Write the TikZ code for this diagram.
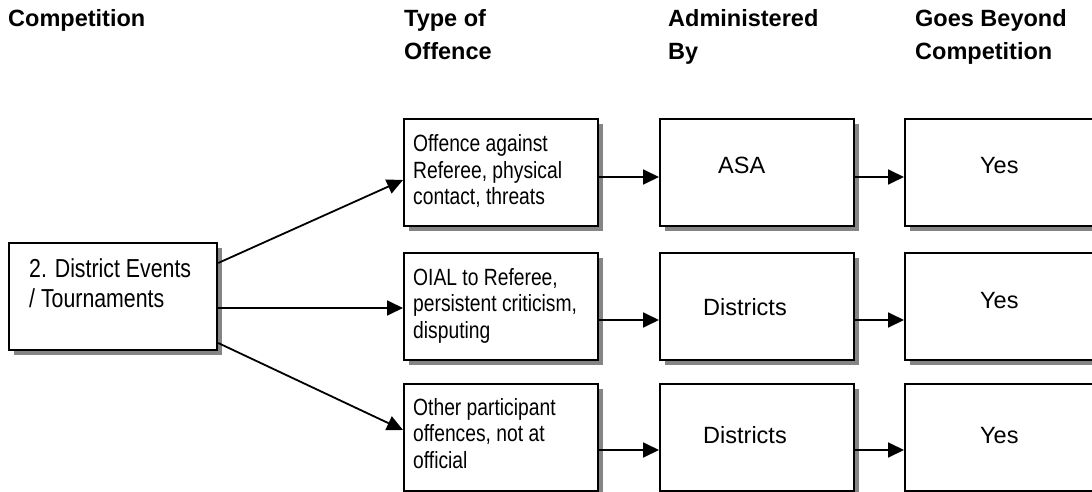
\documentclass[tikz,border=0pt]{standalone}
\usepackage{fontspec}
\setmainfont{Liberation Sans}
\newfontfamily\narrowf[FakeStretch=0.82]{Liberation Sans}
\usetikzlibrary{arrows.meta,shadows}
\begin{document}
\begin{tikzpicture}[x=1pt,y=-1pt,
  boxst/.style={draw,line width=2.2pt,rectangle,inner sep=0pt,anchor=north west,
    minimum height=107pt,fill=white,
    drop shadow={shadow xshift=5pt,shadow yshift=-5pt,fill=black!48,opacity=1}},
  head/.style={anchor=base west,inner sep=0pt,font=\fontsize{23.5}{33}\selectfont\bfseries},
  lab/.style={anchor=base west,inner sep=0pt,font=\narrowf\fontsize{23.5}{26.5}\selectfont},
  biglab/.style={anchor=base west,inner sep=0pt,font=\narrowf\fontsize{26}{30}\selectfont},
  plain/.style={anchor=base west,inner sep=0pt,font=\fontsize{23.5}{27}\selectfont},
  arr/.style={line width=1.8pt,-{Triangle[length=16pt,width=15pt]}}]
\clip (0,0) rectangle (1092,492);
\fill[white] (0,0) rectangle (1092,492);
% headers
\node[head] (h1) at (8,27) {\begin{tabular}[t]{@{}l@{}}Competition\end{tabular}};
\node[head] (h2) at (404,27) {\begin{tabular}[t]{@{}l@{}}Type of\\Offence\end{tabular}};
\node[head] (h3) at (668,27) {\begin{tabular}[t]{@{}l@{}}Administered\\By\end{tabular}};
\node[head] (h4) at (915,27) {\begin{tabular}[t]{@{}l@{}}Goes Beyond\\Competition\end{tabular}};
% boxes
\node[boxst,minimum width=208pt] (L) at (8,242) {};
\node[boxst,minimum width=194pt] (t1) at (403,118) {};
\node[boxst,minimum width=194pt] (t2) at (403,252) {};
\node[boxst,minimum width=194pt] (t3) at (403,383) {};
\node[boxst,minimum width=194pt] (a1) at (659,118) {};
\node[boxst,minimum width=194pt] (a2) at (659,252) {};
\node[boxst,minimum width=194pt] (a3) at (659,383) {};
\node[boxst,minimum width=200pt] (y1) at (904,118) {};
\node[boxst,minimum width=200pt] (y2) at (904,252) {};
\node[boxst,minimum width=200pt] (y3) at (904,383) {};
% texts
\node[biglab] (Lt) at (29,277) {\begin{tabular}[t]{@{}l@{}}2. District Events\\/ Tournaments\end{tabular}};
\node[lab] (t1t) at (413,152) {\begin{tabular}[t]{@{}l@{}}Offence against\\Referee, physical\\contact, threats\end{tabular}};
\node[lab] (t2t) at (413,285) {\begin{tabular}[t]{@{}l@{}}OIAL to Referee,\\persistent criticism,\\disputing\end{tabular}};
\node[lab] (t3t) at (413,415) {\begin{tabular}[t]{@{}l@{}}Other participant\\offences, not at\\official\end{tabular}};
\node[plain] (a1t) at (718,173) {ASA};
\node[plain] (a2t) at (703,315) {Districts};
\node[plain] (a3t) at (703,443) {Districts};
\node[plain] (y1t) at (980,173) {Yes};
\node[plain] (y2t) at (980,308) {Yes};
\node[plain] (y3t) at (980,443) {Yes};
% connectors
\draw[arr] (L.east |- 0,263) -- (t1.west |- 0,180);
\draw[arr] (L.east |- 0,308) -- (t2.west |- 0,308);
\draw[arr] (L.east |- 0,343) -- (t3.west |- 0,430);
\draw[arr] (t1.east |- 0,177) -- (a1.west |- 0,177);
\draw[arr] (t2.east |- 0,320) -- (a2.west |- 0,320);
\draw[arr] (t3.east |- 0,450) -- (a3.west |- 0,450);
\draw[arr] (a1.east |- 0,177) -- (y1.west |- 0,177);
\draw[arr] (a2.east |- 0,320) -- (y2.west |- 0,320);
\draw[arr] (a3.east |- 0,450) -- (y3.west |- 0,450);
\end{tikzpicture}
\end{document}
